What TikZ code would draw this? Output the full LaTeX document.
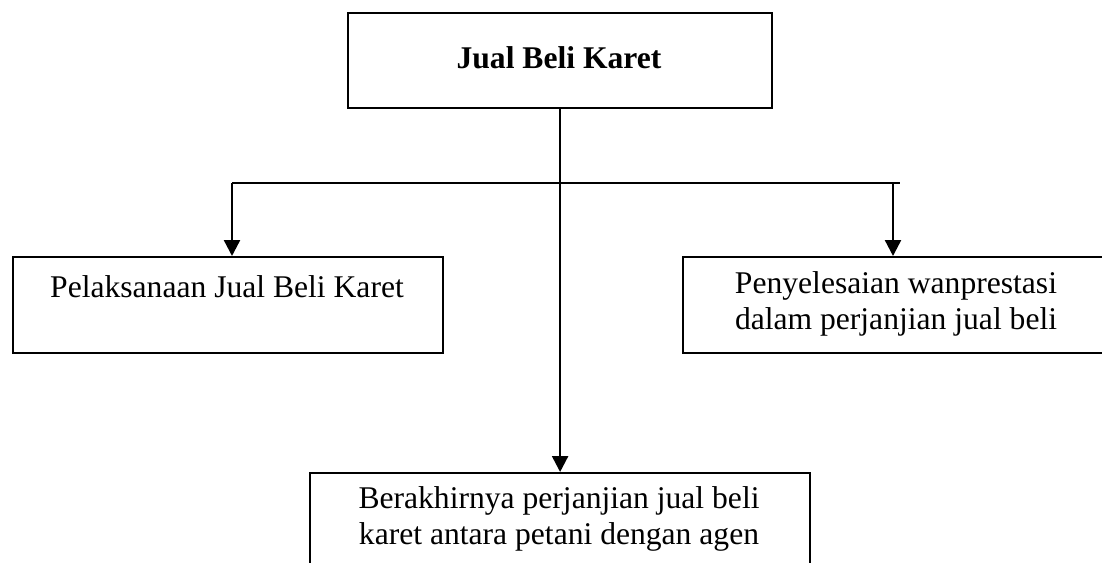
\documentclass[tikz,border=0pt]{standalone}
\usepackage{fontspec}
\setmainfont{Liberation Serif}
\usetikzlibrary{arrows.meta,positioning}

\begin{document}
\begin{tikzpicture}[x=0.5pt, y=-0.5pt,
    box/.style={rectangle, draw, line width=1.1pt, inner sep=0pt, anchor=north west},
    txt/.style={inner sep=0pt, anchor=north, align=center, font=\fontsize{15.8}{18}\selectfont},
    arrow/.style={-{Triangle[width=8pt,length=8pt]}, line width=1.2pt}
]
    \useasboundingbox (0,0) rectangle (1102,562);
    \clip (0,0) rectangle (1102,562);

    % Kotak utama
    \node[box, minimum width=212pt, minimum height=47.5pt] (jual) at (347,12) {};
    \node[txt, font=\fontsize{15.8}{18}\selectfont\bfseries] (jualtxt) at (559,42.8) {\strut Jual Beli Karet};

    % Kotak cabang
    \node[box, minimum width=215pt, minimum height=48pt] (pelaksanaan) at (12,256) {};
    \node[txt] (pelaksanaantxt) at (227,271.8) {\strut Pelaksanaan Jual Beli Karet};

    \node[box, minimum width=215pt, minimum height=48pt] (penyelesaian) at (682,256) {};
    \node[txt] (penyelesaiantxt) at (896,267.8) {\strut Penyelesaian wanprestasi\\dalam perjanjian jual beli};

    \node[box, minimum width=250pt, minimum height=60pt] (berakhir) at (309,472) {};
    \node[txt] (berakhirtxt) at (559,482.8) {\strut Berakhirnya perjanjian jual beli\\karet antara petani dengan agen};

    % Garis cabang
    \coordinate (kiri) at (232,183);
    \coordinate (kanan) at (893,183);
    \coordinate (ujung) at (900,183);
    \draw[line width=1.2pt] (kiri) -- (ujung);
    \draw[arrow] (jual.south) -- (berakhir.north);
    \draw[arrow] (kiri) -- (kiri |- pelaksanaan.north);
    \draw[arrow] (kanan) -- (kanan |- penyelesaian.north);
\end{tikzpicture}
\end{document}
